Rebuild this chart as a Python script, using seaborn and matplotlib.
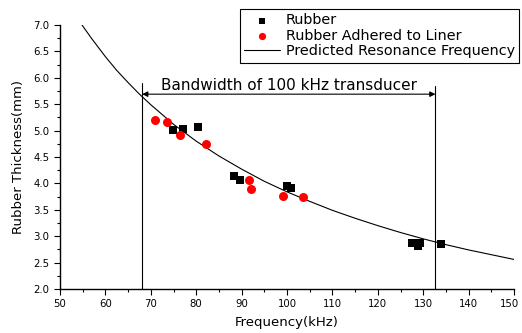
import numpy as np
import pandas as pd
import seaborn as sns
import matplotlib
matplotlib.use("Agg")
import matplotlib.pyplot as plt
from matplotlib.ticker import MultipleLocator, FuncFormatter

sns.set_style("ticks")
plt.rcParams['font.family'] = ['DejaVu Sans']
plt.rcParams['text.color'] = 'black'
plt.rcParams['axes.labelcolor'] = 'black'

# measured points
rubber_freq = [74.8, 77.2, 80.5, 88.3, 89.6, 99.9, 100.9, 127.5, 128.8, 129.4, 133.9]
rubber_thick = [5.02, 5.03, 5.07, 4.14, 4.06, 3.96, 3.92, 2.88, 2.82, 2.88, 2.85]

liner_freq = [70.9, 73.6, 76.4, 82.1, 91.6, 92.1, 99.2, 103.5]
liner_thick = [5.20, 5.16, 4.92, 4.75, 4.06, 3.90, 3.76, 3.74]

# predicted resonance curve
pred_freq = [54.6, 57, 60, 62.5, 65, 67.5, 70, 75, 80, 85, 90, 95, 100, 105,
             110, 115, 120, 125, 130, 135, 140, 145, 150]
pred_thick = [7.03, 6.74, 6.40, 6.14, 5.91, 5.69, 5.49, 5.12, 4.80, 4.52, 4.27,
              4.04, 3.84, 3.66, 3.49, 3.34, 3.20, 3.07, 2.95, 2.84, 2.74, 2.65, 2.56]

band_low, band_high = 68.1, 132.7

rubber = pd.DataFrame({"f": rubber_freq, "t": rubber_thick})
liner = pd.DataFrame({"f": liner_freq, "t": liner_thick})
pred = pd.DataFrame({"f": pred_freq, "t": pred_thick})

fig = plt.figure(figsize=(5.22, 3.33), dpi=100)
ax = fig.add_axes([60 / 522, 1 - 289 / 333, 454 / 522, 264 / 333])

sns.lineplot(data=pred, x="f", y="t", ax=ax, color="black", lw=0.8,
             label="Predicted Resonance Frequency", zorder=2)
sns.scatterplot(data=rubber, x="f", y="t", ax=ax, marker="s", color="black",
                s=38, edgecolor="black", linewidth=0, label="Rubber", zorder=3)
sns.scatterplot(data=liner, x="f", y="t", ax=ax, marker="o", color="red",
                s=42, edgecolor="red", linewidth=0, label="Rubber Adhered to Liner", zorder=3)

# bandwidth markers
ax.plot([band_low, band_low], [2.0, 5.9], color="black", lw=0.8)
ax.plot([band_high, band_high], [2.0, 5.85], color="black", lw=0.8)
ax.annotate("", xy=(band_low, 5.69), xytext=(band_high, 5.69),
            arrowprops=dict(arrowstyle="<|-|>", color="black", lw=0.8,
                            mutation_scale=8, shrinkA=0, shrinkB=0))
ax.text(100.4, 5.85, "Bandwidth of 100 kHz transducer", ha="center", va="center",
        fontsize=11, color="black")

ax.set_xlim(50, 150)
ax.set_ylim(2.0, 7.0)
ax.xaxis.set_major_locator(MultipleLocator(10))
ax.xaxis.set_minor_locator(MultipleLocator(5))
ax.yaxis.set_major_locator(MultipleLocator(0.5))
ax.yaxis.set_minor_locator(MultipleLocator(0.25))
ax.yaxis.set_major_formatter(matplotlib.ticker.FormatStrFormatter("%.1f"))
# the last x label is drawn by hand so it stays inside the canvas
ax.xaxis.set_major_formatter(FuncFormatter(lambda v, p: "" if v >= 150 else f"{v:.0f}"))
ax.tick_params(which="major", length=4, width=0.8, labelsize=7.3, colors="black")
ax.tick_params(which="minor", length=2.5, width=0.8, colors="black")
sns.despine(ax=ax)
for s in ["left", "bottom"]:
    ax.spines[s].set_linewidth(1.0)
    ax.spines[s].set_color("black")

ax.annotate("150", xy=(150, 2.0), xytext=(-3, -7.5), textcoords="offset points",
            ha="center", va="top", fontsize=7.3, color="black", annotation_clip=False)

ax.set_xlabel("Frequency(kHz)", fontsize=9.5, labelpad=5)
ax.set_ylabel("Rubber Thickness(mm)", fontsize=9.5, labelpad=6)

handles, labels = ax.get_legend_handles_labels()
order = [labels.index("Rubber"), labels.index("Rubber Adhered to Liner"),
         labels.index("Predicted Resonance Frequency")]
ax.legend([handles[i] for i in order], [labels[i] for i in order],
          loc="upper right", bbox_to_anchor=(519 / 522, 1 - 9 / 333),
          bbox_transform=fig.transFigure, borderaxespad=0, fontsize=10.4,
          frameon=True, fancybox=False, edgecolor="black", framealpha=1,
          handlelength=2.5, labelspacing=0.1, borderpad=0.3, handletextpad=0.35,
          markerscale=0.8)
ax.get_legend().get_frame().set_linewidth(0.8)

fig.savefig("out.png", dpi=100)
